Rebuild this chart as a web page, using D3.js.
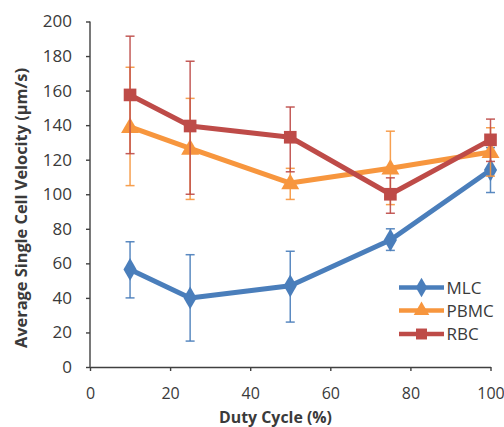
<!DOCTYPE html>
<html><head><meta charset="utf-8">
<script src="https://cdn.jsdelivr.net/npm/d3@7"></script>
<style>
html,body{margin:0;padding:0;background:#fff;}
text{font-family:"Open Sans",sans-serif;fill:#3a3a3a;}
</style></head>
<body><svg id="c" width="504" height="427"></svg>
<script>
const dutyCycle = [10, 25, 50, 75, 100];
const seriesNames = ["MLC", "PBMC", "RBC"];
const mlcMean = [56.5, 40, 47, 73.5, 114];
const mlcLow  = [40, 15, 26, 67.5, 101];
const mlcHigh = [72.5, 65, 67, 80, 127];
const pbmcMean = [139, 126.5, 106.5, 115, 124.5];
const pbmcLow  = [105, 97, 97, 94, 110.5];
const pbmcHigh = [173.5, 155.5, 115, 136.5, 138.5];
const rbcMean = [157.5, 139.5, 133, 100, 131.5];
const rbcLow  = [123.5, 100, 113, 89, 119];
const rbcHigh = [191.5, 177, 150.5, 109.5, 143.5];
const xTicks = [0, 20, 40, 60, 80, 100];
const yTicks = [0, 20, 40, 60, 80, 100, 120, 140, 160, 180, 200];

const colors = {MLC:"#4a7ebb", PBMC:"#f7963e", RBC:"#be4b48"};
const symbols = {MLC:d3.symbolDiamond, PBMC:d3.symbolTriangle, RBC:d3.symbolSquare};
const symSize = {MLC:150, PBMC:140, RBC:160};

const series = [
  {name:"MLC", mean:mlcMean, low:mlcLow, high:mlcHigh},
  {name:"PBMC", mean:pbmcMean, low:pbmcLow, high:pbmcHigh},
  {name:"RBC", mean:rbcMean, low:rbcLow, high:rbcHigh}
];

const svg = d3.select("#c");
const x = d3.scaleLinear().domain([0,100]).range([90,490.5]);
const y = d3.scaleLinear().domain([0,200]).range([367,21.5]);

const ax = svg.append("g").attr("transform","translate(0,367)")
  .call(d3.axisBottom(x).tickValues(xTicks).tickSizeInner(4).tickSizeOuter(0).tickPadding(17));
const ay = svg.append("g").attr("transform","translate(90,0)")
  .call(d3.axisLeft(y).tickValues(yTicks).tickSizeInner(4).tickSizeOuter(0).tickPadding(14));
[ax,ay].forEach(a=>{
  a.select(".domain").attr("stroke","#404040").attr("stroke-width",1.4);
  a.selectAll(".tick line").attr("stroke","#404040").attr("stroke-width",1.4);
  a.selectAll(".tick text").attr("font-size",17).attr("fill","#3a3a3a").attr("font-family","Open Sans");
});
ax.selectAll(".tick text").attr("font-size",16);
ay.select(".domain").attr("d","M0,367.7V21.5").attr("fill","none");

const g = svg.append("g");
series.forEach(s=>{
  const c = colors[s.name];
  const sg = g.append("g");
  dutyCycle.forEach((d,i)=>{
    const xx = x(d);
    sg.append("line").attr("x1",xx).attr("x2",xx).attr("y1",y(s.low[i])).attr("y2",y(s.high[i]))
      .attr("stroke",c).attr("stroke-width",1.5).attr("opacity",0.9);
    [s.low[i], s.high[i]].forEach(v=>{
      sg.append("line").attr("x1",xx-4.5).attr("x2",xx+4.5).attr("y1",y(v)).attr("y2",y(v))
        .attr("stroke",c).attr("stroke-width",1.5).attr("opacity",0.9);
    });
  });
  const line = d3.line().x((d,i)=>x(dutyCycle[i])).y(d=>y(d));
  sg.append("path").attr("d",line(s.mean)).attr("fill","none").attr("stroke",c)
    .attr("stroke-width",5).attr("stroke-linejoin","round");
  const sym = d3.symbol().type(symbols[s.name]).size(symSize[s.name]);
  s.mean.forEach((v,i)=>{
    sg.append("path").attr("d",sym()).attr("fill",c)
      .attr("transform",`translate(${x(dutyCycle[i])},${y(v) + (s.name==="PBMC"?1:0)})`);
  });
});

svg.append("text").attr("x",275.5).attr("y",422.5).attr("text-anchor","middle")
  .attr("font-size",15.5).attr("font-weight","bold").attr("textLength",113).attr("lengthAdjust","spacingAndGlyphs")
  .text("Duty Cycle (%)");
svg.append("text").attr("transform","translate(27,208) rotate(-90)").attr("text-anchor","middle")
  .attr("font-size",16).attr("font-weight","bold").attr("textLength",280).attr("lengthAdjust","spacingAndGlyphs")
  .text("Average Single Cell Velocity (µm/s)");

const leg = svg.append("g");
const legY = [287.5, 310.5, 334];
seriesNames.forEach((n,i)=>{
  const c = colors[n];
  leg.append("line").attr("x1",399).attr("x2",444).attr("y1",legY[i]).attr("y2",legY[i])
    .attr("stroke",c).attr("stroke-width",4.5);
  leg.append("path").attr("d",d3.symbol().type(symbols[n]).size(symSize[n]*0.75)())
    .attr("fill",c).attr("transform",`translate(421.5,${legY[i]})`);
  leg.append("text").attr("x",446.5).attr("y",legY[i]).attr("dy","0.36em")
    .attr("font-size",17).text(n);
});
</script></body></html>
